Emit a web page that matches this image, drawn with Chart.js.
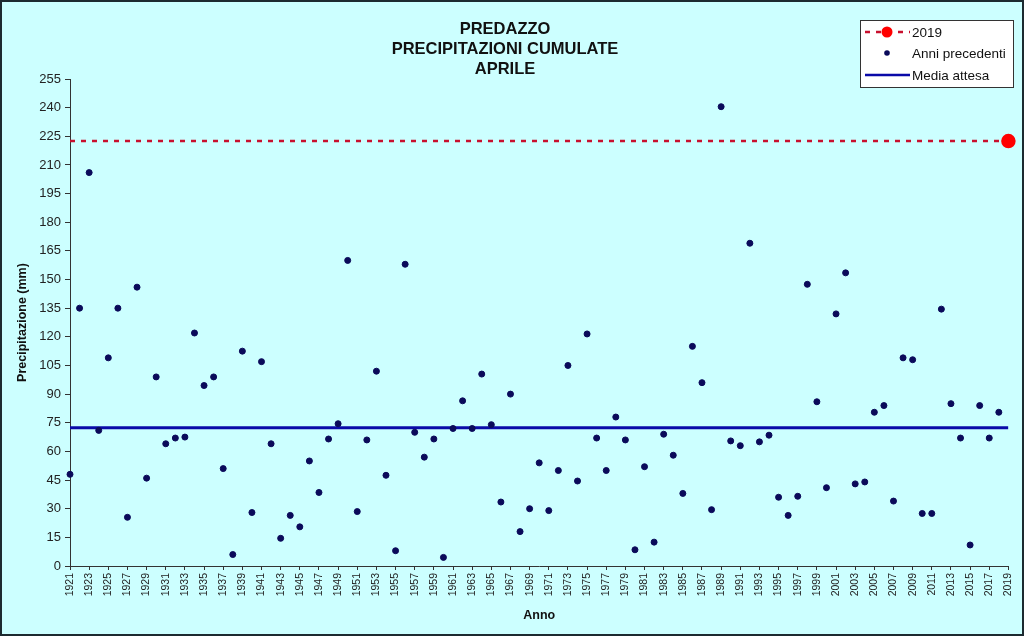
<!DOCTYPE html>
<html>
<head>
<meta charset="utf-8">
<script src="https://cdn.jsdelivr.net/npm/chart.js@4.4.1/dist/chart.umd.min.js"></script>
<style>
  html, body { margin: 0; padding: 0; background: #ccffff; }
  #wrap { width: 1024px; height: 636px; }
</style>
</head>
<body>
<div id="wrap"><canvas id="precipChart" width="1024" height="636"></canvas></div>
<script>
// Aprile, precipitazioni cumulate (mm) 1921-2018
const firstYear = 1921;
const precipitazioni = [
    48, 135, 206, 71, 109, 135, 25.5, 146, 46, 99,
    64, 67, 67.5, 122, 94.5, 99, 51, 6, 112.5, 28,
    107, 64, 14.5, 26.5, 20.5, 55, 38.5, 66.5, 74.5, 160,
    28.5, 66, 102, 47.5, 8, 158, 70, 57, 66.5, 4.5,
    72, 86.5, 72, 100.5, 74, 33.5, 90, 18, 30, 54,
    29, 50, 105, 44.5, 121.5, 67, 50, 78, 66, 8.5,
    52, 12.5, 69, 58, 38, 115, 96, 29.5, 240.5, 65.5,
    63, 169, 65, 68.5, 36, 26.5, 36.5, 147.5, 86, 41,
    132, 153.5, 43, 44, 80.5, 84, 34, 109, 108, 27.5,
    27.5, 134.5, 85, 67, 11, 84, 67, 80.5
];
const years = precipitazioni.map((v, i) => firstYear + i);

const anno2019 = 2019;
const valore2019 = 222.5;
const mediaAttesa = 72.4;

const yMin = 0, yMax = 255, yStep = 15;
const xStep = 2;

const legendLabels = ["2019", "Anni precedenti", "Media attesa"];

document.addEventListener("DOMContentLoaded", function () {
    const ctx = document.getElementById("precipChart").getContext("2d");

    const redLine = "#c8102e";
    const redDot = "#ff0000";
    const navy = "#0a0a5a";
    const blue = "#0a0aa8";

    // background, frame and the boxed legend in the top right corner
    const decor = {
        id: "decor",
        beforeDraw(chart) {
            const c = chart.ctx;
            c.save();
            c.fillStyle = "#ccffff";
            c.fillRect(0, 0, chart.width, chart.height);
            c.strokeStyle = "#1c2a30";
            c.lineWidth = 2;
            c.strokeRect(1, 1, chart.width - 2, chart.height - 2);
            c.restore();
        },
        afterDraw(chart) {
            const c = chart.ctx;
            const bx = 860, by = 20, bw = 153, bh = 67;
            c.save();
            c.fillStyle = "#ffffff";
            c.fillRect(bx, by, bw, bh);
            c.strokeStyle = "#333";
            c.lineWidth = 1;
            c.strokeRect(bx + 0.5, by + 0.5, bw, bh);

            const rows = [32, 53, 75];
            const x0 = 865, x1 = 910, xm = 887;

            // 2019
            c.strokeStyle = redLine;
            c.lineWidth = 2.5;
            c.setLineDash([5, 6]);
            c.beginPath(); c.moveTo(x0, rows[0]); c.lineTo(x1, rows[0]); c.stroke();
            c.setLineDash([]);
            c.fillStyle = redDot;
            c.beginPath(); c.arc(xm, rows[0], 5.5, 0, Math.PI * 2); c.fill();

            // Anni precedenti
            c.fillStyle = navy;
            c.beginPath(); c.arc(xm, rows[1], 2.8, 0, Math.PI * 2); c.fill();

            // Media attesa
            c.strokeStyle = blue;
            c.lineWidth = 2.5;
            c.beginPath(); c.moveTo(x0, rows[2]); c.lineTo(x1, rows[2]); c.stroke();

            c.fillStyle = "#111";
            c.font = "13.5px 'Liberation Sans', Arial, sans-serif";
            c.textBaseline = "middle";
            c.textAlign = "left";
            legendLabels.forEach((t, i) => c.fillText(t, 912, rows[i] + 1));
            c.restore();
        }
    };

    new Chart(ctx, {
        data: {
            datasets: [{
                type: "line",
                label: legendLabels[0],
                data: [{ x: firstYear, y: valore2019 }, { x: anno2019, y: valore2019 }],
                borderColor: redLine,
                borderWidth: 2.5,
                borderDash: [5, 6],
                pointRadius: [0, 6],
                pointBackgroundColor: redDot,
                pointBorderColor: redDot,
                clip: false,
                order: 2
            }, {
                type: "scatter",
                label: legendLabels[1],
                data: years.map((y, i) => ({ x: y, y: precipitazioni[i] })),
                pointRadius: 3,
                pointBackgroundColor: navy,
                pointBorderColor: navy,
                clip: false,
                order: 1
            }, {
                type: "line",
                label: legendLabels[2],
                data: [{ x: firstYear, y: mediaAttesa }, { x: anno2019, y: mediaAttesa }],
                borderColor: blue,
                borderWidth: 3,
                pointRadius: 0,
                order: 3
            }]
        },
        options: {
            responsive: false,
            animation: false,
            layout: {
                padding: { left: 0, right: 14, top: 0, bottom: 0 }
            },
            plugins: {
                legend: { display: false },
                tooltip: { enabled: false },
                title: {
                    display: true,
                    text: ["PREDAZZO", "PRECIPITAZIONI CUMULATE", "APRILE"],
                    color: "#111",
                    font: { family: "'Liberation Sans', Arial, sans-serif", size: 16.5, weight: "bold", lineHeight: "20px" },
                    padding: { top: 19, bottom: 0 }
                }
            },
            scales: {
                x: {
                    type: "linear",
                    position: "bottom",
                    min: firstYear,
                    max: anno2019,
                    afterFit: (scale) => { scale.height = 70; },
                    ticks: {
                        stepSize: xStep,
                        autoSkip: false,
                        minRotation: 90,
                        maxRotation: 90,
                        padding: 3,
                        color: "#222",
                        font: { family: "'Liberation Sans', Arial, sans-serif", size: 10.5 },
                        callback: (v) => String(v)
                    },
                    grid: { drawOnChartArea: false, tickLength: 4, color: "#333" },
                    border: { color: "#333", width: 1 },
                    title: {
                        display: true,
                        text: "Anno",
                        color: "#111",
                        font: { family: "'Liberation Sans', Arial, sans-serif", size: 12.5, weight: "bold" },
                        padding: { top: 0, bottom: 13 }
                    }
                },
                y: {
                    min: yMin,
                    max: yMax,
                    afterFit: (scale) => { scale.width = 70; },
                    ticks: {
                        stepSize: yStep,
                        padding: 4,
                        color: "#222",
                        font: { family: "'Liberation Sans', Arial, sans-serif", size: 13 }
                    },
                    grid: { drawOnChartArea: false, tickLength: 5, color: "#333" },
                    border: { color: "#333", width: 1 },
                    title: {
                        display: true,
                        text: "Precipitazione (mm)",
                        color: "#111",
                        font: { family: "'Liberation Sans', Arial, sans-serif", size: 12.5, weight: "bold" },
                        padding: { top: 15, bottom: 0 }
                    }
                }
            }
        },
        plugins: [decor]
    });
});
</script>
</body>
</html>
